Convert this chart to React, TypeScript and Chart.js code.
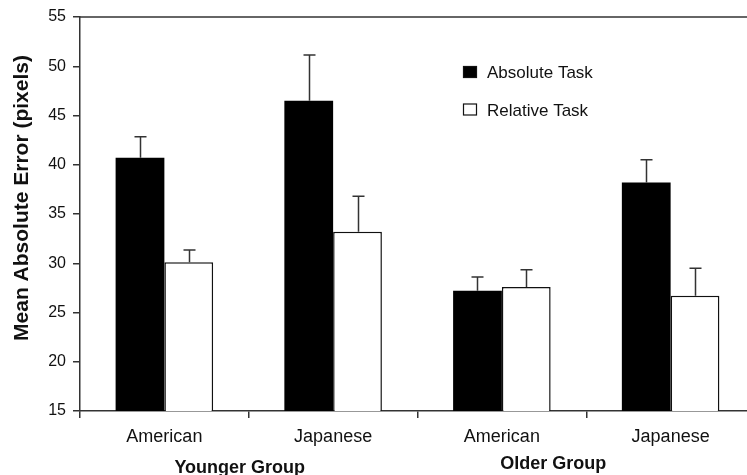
import React, { useEffect, useRef } from 'react';
import { Chart, registerables } from 'chart.js';

Chart.register(...registerables);

// Chart content
const categories = ['American', 'Japanese', 'American', 'Japanese'];
const groupLabels = ['Younger Group', 'Older Group'];
const seriesNames = ['Absolute Task', 'Relative Task'];
const absoluteMeans = [40.7, 46.5, 27.2, 38.2];
const absoluteErrors = [2.15, 4.65, 1.4, 2.3];
const relativeMeans = [30.1, 33.2, 27.6, 26.7];
const relativeErrors = [1.25, 3.6, 1.75, 2.8];
const yMin = 15;
const yMax = 55;
const yStep = 5;
const yTitle = 'Mean Absolute Error (pixels)';

const errorsBySeries = [absoluteErrors, relativeErrors];
const fills = ['#000000', '#ffffff'];

const TEXT = '#111111';
const LINE = '#333333';
const FONT = "'Liberation Sans', Arial, sans-serif";

// Upward-only error bars with a cap
const errorBarPlugin = {
  id: 'errorBars',
  afterDatasetsDraw(chart: any) {
    const { ctx } = chart;
    const yScale = chart.scales.y;
    ctx.save();
    ctx.strokeStyle = LINE;
    ctx.lineWidth = 1.5;
    chart.data.datasets.forEach((ds: any, i: number) => {
      const meta = chart.getDatasetMeta(i);
      meta.data.forEach((bar: any, j: number) => {
        const v = ds.data[j];
        const e = errorsBySeries[i][j];
        const x = Math.round(bar.x) + 0.5;
        const yTop = yScale.getPixelForValue(v + e);
        ctx.beginPath();
        ctx.moveTo(x, bar.y);
        ctx.lineTo(x, yTop);
        ctx.moveTo(x - 6, yTop);
        ctx.lineTo(x + 6, yTop);
        ctx.stroke();
      });
    });
    ctx.restore();
  },
};

// Top frame line, y-axis title, group labels and legend
const decorPlugin = {
  id: 'decor',
  afterDraw(chart: any) {
    const { ctx, chartArea } = chart;
    const xScale = chart.scales.x;
    ctx.save();

    // top frame
    ctx.strokeStyle = LINE;
    ctx.lineWidth = 1.5;
    ctx.beginPath();
    ctx.moveTo(chartArea.left, chartArea.top);
    ctx.lineTo(chartArea.right, chartArea.top);
    ctx.stroke();

    // y-axis title
    ctx.fillStyle = TEXT;
    ctx.font = `bold 21px ${FONT}`;
    ctx.textAlign = 'center';
    ctx.textBaseline = 'middle';
    ctx.save();
    ctx.translate(22, chartArea.top + 181);
    ctx.rotate(-Math.PI / 2);
    ctx.fillText(yTitle, 0, 0);
    ctx.restore();

    // group labels under the category labels
    ctx.font = `bold 18px ${FONT}`;
    ctx.textBaseline = 'alphabetic';
    const groupNudge = [-9, -33];
    const groupBaseline = [473, 469];
    groupLabels.forEach((g, k) => {
      const x0 = xScale.getPixelForValue(k * 2);
      const x1 = xScale.getPixelForValue(k * 2 + 1);
      ctx.fillText(g, (x0 + x1) / 2 + groupNudge[k], groupBaseline[k]);
    });

    // legend
    const lx = chartArea.left + 383;
    const ly = chartArea.top + 49;
    ctx.font = `17px ${FONT}`;
    ctx.textAlign = 'left';
    seriesNames.forEach((name, k) => {
      const y = ly + k * 37.5;
      ctx.fillStyle = fills[k];
      ctx.fillRect(lx, y, 14, 12);
      ctx.strokeStyle = '#111';
      ctx.lineWidth = 1.2;
      ctx.strokeRect(lx + 0.5, y + 0.5, 13, 11);
      ctx.fillStyle = TEXT;
      ctx.fillText(name, lx + 24, y + 12);
    });

    ctx.restore();
  },
};

export default function App() {
  const canvasRef = useRef<HTMLCanvasElement | null>(null);

  useEffect(() => {
    const canvas = canvasRef.current;
    if (!canvas) return;
    const chart = new Chart(canvas, {
      type: 'bar',
      data: {
        labels: categories,
        datasets: [
          {
            label: seriesNames[0],
            data: absoluteMeans,
            backgroundColor: fills[0],
            borderColor: '#000',
            borderWidth: 0,
          },
          {
            label: seriesNames[1],
            data: relativeMeans,
            backgroundColor: fills[1],
            borderColor: '#111',
            borderWidth: 1.5,
            borderSkipped: 'bottom',
          },
        ],
      },
      options: {
        responsive: false,
        animation: false,
        layout: { padding: { top: 17, right: 7, left: 0, bottom: 0 } },
        datasets: {
          bar: { categoryPercentage: 0.578, barPercentage: 1 },
        },
        plugins: {
          legend: { display: false },
          tooltip: { enabled: false },
        },
        scales: {
          x: {
            type: 'category',
            grid: {
              display: true,
              drawOnChartArea: false,
              drawTicks: true,
              tickLength: 7,
              offset: true,
              color: LINE,
              lineWidth: 1.5,
            },
            border: { display: true, color: LINE, width: 1.5 },
            ticks: {
              color: TEXT,
              font: { family: FONT, size: 18 },
              padding: 8,
              maxRotation: 0,
            },
            afterFit(scale: any) {
              scale.height = 64;
            },
          },
          y: {
            min: yMin,
            max: yMax,
            grid: {
              display: true,
              drawOnChartArea: false,
              drawTicks: true,
              tickLength: 7,
              color: LINE,
              lineWidth: 1.5,
            },
            border: { display: true, color: LINE, width: 1.5 },
            ticks: {
              stepSize: yStep,
              color: TEXT,
              font: { family: FONT, size: 16 },
              padding: 7,
            },
            afterFit(scale: any) {
              scale.width = 80;
            },
          },
        },
      },
      plugins: [errorBarPlugin, decorPlugin],
    });
    return () => chart.destroy();
  }, []);

  return (
    <div
      style={{
        position: 'absolute',
        left: 0,
        top: 0,
        width: 747,
        height: 475,
        overflow: 'hidden',
        background: '#fff',
      }}
    >
      <canvas ref={canvasRef} width={762} height={475} style={{ width: 762, height: 475, display: 'block' }} />
    </div>
  );
}
